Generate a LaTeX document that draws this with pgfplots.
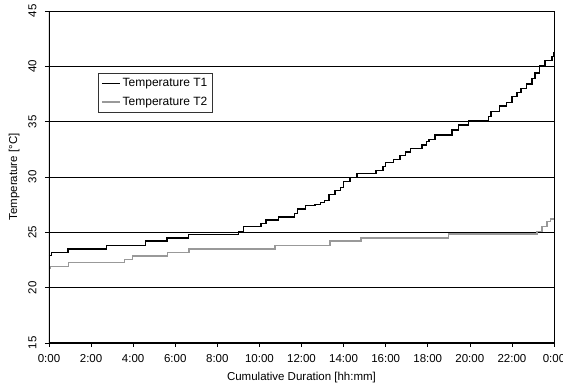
\documentclass[border=0pt]{standalone}
\usepackage{fontspec}
\setmainfont{Liberation Sans}
\usepackage{pgfplots}
\pgfplotsset{compat=1.18}

% Temperature steps: value holds from the given hour until the next one
\pgfplotstableread{
h T
0     22.9
0.13  23.2
0.90  23.5
2.72  23.8
4.60  24.2
5.60  24.5
6.62  24.8
9.00  25.1
9.24  25.5
10.08 25.8
10.32 26.1
10.92 26.4
11.68 26.7
11.80 27.1
12.20 27.4
12.65 27.5
12.90 27.7
13.10 27.9
13.30 28.4
13.60 28.8
13.84 29.05
14.00 29.6
14.30 29.95
14.63 30.3
15.55 30.6
15.87 30.95
16.00 31.3
16.37 31.6
16.69 31.95
16.93 32.25
17.17 32.55
17.72 32.9
17.95 33.2
18.05 33.4
18.35 33.8
19.15 34.25
19.46 34.7
19.94 35.1
20.89 35.45
21.00 35.9
21.41 36.4
21.73 36.75
22.00 37.25
22.24 37.65
22.43 38.0
22.68 38.4
22.95 38.9
23.10 39.4
23.31 40.1
23.58 40.5
23.90 40.9
24.00 41.3
}\tone

\pgfplotstableread{
h T
0     21.75
0.05  21.9
0.92  22.25
3.60  22.57
3.97  22.87
5.64  23.2
6.66  23.5
10.75 23.8
13.36 24.2
14.82 24.5
18.99 24.85
23.19 25.06
23.43 25.5
23.67 25.97
23.83 26.2
24.00 26.2
}\ttwo

\begin{document}
\begin{tikzpicture}
\useasboundingbox (-49pt,-42pt) rectangle (514pt,343pt);
\begin{axis}[
  at={(0,0)}, anchor=south west,
  scale only axis,
  width=505pt, height=332pt,
  xmin=0, xmax=24, ymin=15, ymax=45,
  xtick={0,2,...,24},
  xticklabels={0:00,2:00,4:00,6:00,8:00,10:00,12:00,14:00,16:00,18:00,20:00,22:00,0:00},
  ytick={15,20,...,45},
  ymajorgrids,
  major grid style={black, line width=0.7pt},
  tick align=outside,
  major tick length=4pt,
  tick style={black, line width=0.6pt},
  xtick pos=bottom, ytick pos=left,
  axis line style={black, line width=0.6pt},
  font=\fontsize{11.5}{13}\selectfont,
  /pgf/number format/assume math mode=true,
  yticklabel style={rotate=90, anchor=south},
  xticklabel shift=4pt,
  yticklabel shift=5pt,
  xlabel shift=3pt,
  ylabel shift=2pt,
  xlabel={Cumulative Duration [hh:mm]},
  ylabel={Temperature [°C]},
  legend style={at={(0.097,0.813)}, anchor=north west, draw=black!80,
    line width=0.6pt, inner xsep=3pt, inner ysep=3pt, row sep=5pt,
    font=\fontsize{12}{13}\selectfont, cells={anchor=west}},
  legend cell align=left,
  legend image code/.code={\draw[#1] (0pt,0pt) -- (18pt,0pt);},
]
\addplot[const plot, black, line width=1.4pt] table[x=h, y=T] {\tone};
\addlegendentry{Temperature T1}
\addplot[const plot, black!40, line width=1.4pt] table[x=h, y=T] {\ttwo};
\addlegendentry{Temperature T2}
\draw[black, line width=1.3pt] (rel axis cs:0,1) -- (rel axis cs:0,0) -- (rel axis cs:1,0);
\end{axis}
\end{tikzpicture}
\end{document}
